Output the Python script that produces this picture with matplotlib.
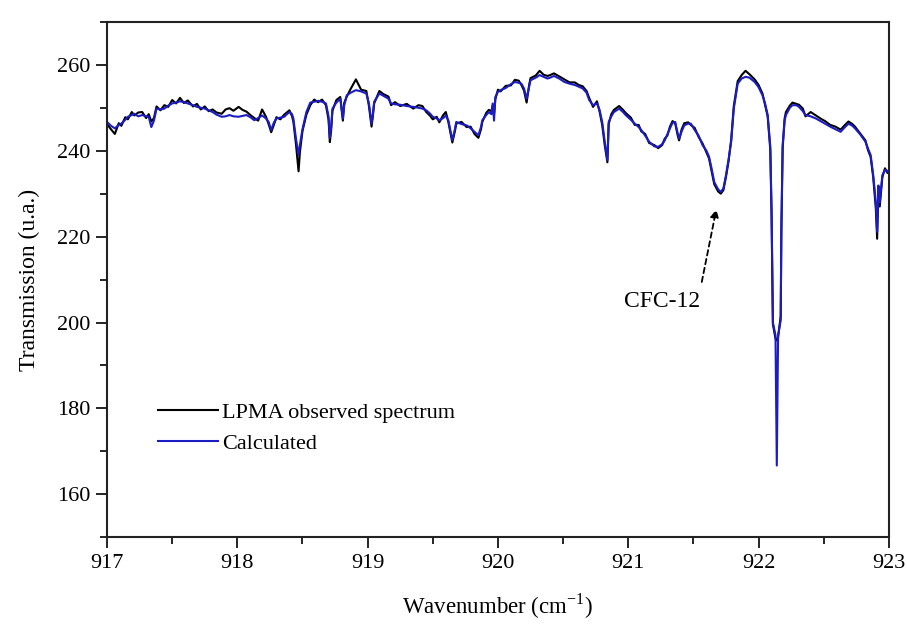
import matplotlib.pyplot as plt
from matplotlib.ticker import MultipleLocator

plt.rcParams['font.family'] = ['Liberation Serif', 'DejaVu Serif']
plt.rcParams['mathtext.fontset'] = 'custom'
plt.rcParams['mathtext.rm'] = 'Liberation Serif'

# wavenumber grid (cm-1), ten points per row
wavenumber = [
    917.00, 917.03, 917.06, 917.09, 917.11, 917.14, 917.16, 917.19, 917.21, 917.24,
    917.27, 917.30, 917.32, 917.34, 917.36, 917.38, 917.41, 917.44, 917.47, 917.50,
    917.53, 917.56, 917.59, 917.62, 917.66, 917.69, 917.72, 917.75, 917.78, 917.81,
    917.84, 917.88, 917.91, 917.94, 917.97, 918.01, 918.04, 918.07, 918.10, 918.13,
    918.16, 918.19, 918.22, 918.24, 918.26, 918.28, 918.30, 918.33, 918.36, 918.38,
    918.40, 918.42, 918.43, 918.45, 918.47, 918.48, 918.50, 918.53, 918.56, 918.59,
    918.62, 918.65, 918.68, 918.70, 918.71, 918.72, 918.73, 918.76, 918.79, 918.80,
    918.81, 918.82, 918.84, 918.87, 918.91, 918.95, 918.99, 919.01, 919.03, 919.04,
    919.05, 919.09, 919.12, 919.16, 919.18, 919.21, 919.25, 919.30, 919.35, 919.39,
    919.42, 919.45, 919.48, 919.50, 919.53, 919.55, 919.58, 919.60, 919.62, 919.65,
    919.67, 919.68, 919.72, 919.76, 919.79, 919.82, 919.85, 919.87, 919.88, 919.91,
    919.93, 919.95, 919.96, 919.97, 919.98, 920.00, 920.02, 920.06, 920.10, 920.13,
    920.16, 920.18, 920.20, 920.22, 920.24, 920.25, 920.29, 920.32, 920.35, 920.38,
    920.40, 920.43, 920.47, 920.51, 920.55, 920.59, 920.62, 920.65, 920.68, 920.70,
    920.73, 920.76, 920.78, 920.80, 920.82, 920.84, 920.85, 920.87, 920.89, 920.93,
    920.96, 920.98, 921.02, 921.05, 921.08, 921.10, 921.13, 921.16, 921.20, 921.23,
    921.26, 921.28, 921.30, 921.32, 921.34, 921.36, 921.38, 921.39, 921.41, 921.43,
    921.46, 921.48, 921.51, 921.54, 921.57, 921.60, 921.62, 921.64, 921.66, 921.69,
    921.71, 921.73, 921.75, 921.77, 921.79, 921.81, 921.84, 921.87, 921.90, 921.93,
    921.97, 922.00, 922.03, 922.05, 922.07, 922.09, 922.10, 922.11, 922.13, 922.14,
    922.15, 922.17, 922.175, 922.185, 922.20, 922.21, 922.24, 922.26, 922.29, 922.31,
    922.34, 922.36, 922.40, 922.44, 922.48, 922.51, 922.55, 922.59, 922.63, 922.66,
    922.69, 922.72, 922.74, 922.78, 922.82, 922.84, 922.86, 922.88, 922.90, 922.91,
    922.92, 922.93, 922.95, 922.97, 922.99, 923.00,
]

# LPMA balloon spectrum
observed = [
    246.2, 245.0, 243.9, 246.4, 245.8, 247.8, 247.3, 249.0, 248.2, 248.9,
    249.0, 247.6, 248.5, 246.8, 247.6, 250.3, 249.4, 250.6, 250.2, 251.8,
    251.0, 252.3, 251.1, 251.7, 250.3, 250.9, 249.6, 250.3, 249.2, 249.6,
    248.9, 248.6, 249.6, 249.9, 249.3, 250.2, 249.5, 249.1, 248.3, 247.6,
    247.0, 249.6, 247.9, 246.2, 244.3, 246.0, 247.8, 247.3, 248.4, 248.9,
    249.4, 248.0, 246.8, 241.5, 235.2, 239.6, 244.6, 248.4, 250.6, 251.9,
    251.3, 251.9, 250.6, 247.2, 242.0, 244.8, 249.3, 251.8, 252.5, 249.6,
    247.0, 251.1, 252.6, 254.4, 256.6, 254.2, 253.9, 250.4, 245.6, 248.0,
    251.0, 253.9, 253.2, 252.6, 250.6, 251.3, 250.4, 250.9, 249.8, 250.6,
    250.4, 249.0, 248.1, 247.3, 247.9, 246.6, 248.3, 249.0, 246.6, 241.9,
    244.6, 246.3, 246.7, 245.5, 245.6, 243.9, 243.0, 245.0, 246.7, 248.8,
    249.5, 249.2, 250.6, 248.5, 252.0, 254.2, 253.8, 255.1, 255.2, 256.5,
    256.3, 255.3, 254.0, 251.2, 255.4, 256.9, 257.5, 258.6, 257.7, 257.4,
    257.6, 258.0, 257.3, 256.6, 255.9, 255.9, 255.3, 255.0, 253.9, 252.3,
    250.2, 251.5, 249.1, 246.0, 241.2, 237.3, 246.2, 248.5, 249.5, 250.4,
    249.5, 248.8, 247.7, 246.0, 246.0, 244.5, 243.9, 241.8, 241.3, 240.6,
    241.3, 242.8, 243.5, 245.6, 246.9, 246.4, 243.5, 242.4, 245.0, 246.4,
    246.6, 246.0, 245.3, 243.2, 241.7, 239.6, 238.2, 235.2, 232.2, 230.5,
    230.0, 230.8, 233.9, 237.6, 242.6, 250.4, 256.2, 257.6, 258.6, 257.8,
    256.6, 255.3, 253.3, 250.6, 248.0, 240.2, 224.8, 199.6, 196.3, 195.8,
    196.6, 201.5, 221.0, 240.6, 247.5, 249.0, 250.5, 251.2, 250.9, 250.7,
    249.8, 248.0, 249.0, 248.2, 247.4, 246.9, 246.0, 245.6, 244.9, 245.9,
    246.8, 246.2, 245.6, 244.0, 242.4, 240.1, 238.6, 233.8, 226.5, 219.5,
    231.0, 227.0, 233.8, 235.9, 234.8, 235.6,
]

# forward-model fit
calculated = [
    246.7, 245.8, 245.2, 246.0, 246.3, 247.2, 247.9, 248.3, 248.6, 248.0,
    248.3, 248.0, 247.9, 245.5, 247.0, 249.8, 249.6, 249.8, 250.5, 251.0,
    251.2, 251.5, 251.3, 251.0, 250.6, 250.2, 250.0, 249.8, 249.4, 249.0,
    248.4, 247.9, 248.0, 248.3, 248.0, 247.9, 248.1, 248.3, 247.8, 247.1,
    247.6, 248.2, 247.5, 246.7, 244.8, 246.5, 247.5, 247.7, 247.9, 248.5,
    249.0, 248.5, 247.5, 242.8, 239.0, 241.3, 245.0, 249.0, 251.2, 251.4,
    251.6, 251.4, 251.0, 248.0, 243.0, 245.5, 249.8, 251.2, 252.1, 250.0,
    247.5, 250.5, 252.9, 253.5, 254.1, 253.8, 253.3, 251.0, 246.3, 248.5,
    251.4, 253.3, 252.8, 252.1, 251.0, 250.8, 250.7, 250.4, 250.2, 250.0,
    249.8, 249.4, 248.6, 247.9, 247.5, 247.1, 247.6, 248.2, 247.0, 242.4,
    245.0, 246.7, 246.2, 245.9, 245.2, 244.4, 243.6, 245.5, 247.1, 248.3,
    249.0, 248.5, 251.0, 247.0, 252.5, 253.7, 254.1, 254.6, 255.5, 256.0,
    255.8, 255.6, 254.5, 252.1, 255.0, 256.4, 257.0, 257.6, 257.2, 256.8,
    257.0, 257.4, 256.8, 256.0, 255.6, 255.3, 254.9, 254.5, 253.5, 251.8,
    250.6, 251.0, 249.5, 246.7, 242.0, 237.8, 246.7, 248.0, 249.0, 249.8,
    249.0, 248.3, 247.2, 246.3, 245.5, 244.8, 243.5, 242.1, 241.0, 240.9,
    241.5, 242.4, 243.8, 245.2, 246.5, 246.7, 244.0, 242.8, 244.5, 245.9,
    246.3, 246.3, 244.8, 243.5, 241.3, 240.0, 238.6, 235.8, 232.7, 231.0,
    230.4, 231.2, 234.3, 238.0, 242.1, 249.8, 255.6, 256.8, 257.2, 257.0,
    256.0, 254.8, 252.9, 251.0, 248.3, 241.0, 225.7, 200.0, 197.0, 166.7,
    197.0, 200.5, 222.0, 241.3, 247.0, 248.3, 250.0, 250.6, 250.6, 250.2,
    249.2, 248.3, 248.0, 247.5, 246.8, 246.3, 245.6, 245.0, 244.4, 245.4,
    246.3, 245.8, 245.2, 243.8, 242.1, 240.5, 239.0, 234.3, 228.0, 221.1,
    231.9, 228.0, 234.3, 235.5, 235.1, 235.3,
]

fig = plt.figure(figsize=(9.07, 6.24), dpi=100)
ax = fig.add_axes([0.118, 0.139, 0.862, 0.826])

ax.plot(wavenumber, observed, color='black', lw=1.5, label='LPMA observed spectrum')
ax.plot(wavenumber, calculated, color='#1c1cc4', lw=1.5, label='Calculated')

ax.set_xlim(917, 923)
ax.set_ylim(150, 270)
ax.xaxis.set_major_locator(MultipleLocator(1))
ax.xaxis.set_minor_locator(MultipleLocator(0.5))
ax.yaxis.set_major_locator(MultipleLocator(20))
ax.yaxis.set_minor_locator(MultipleLocator(10))
ax.tick_params(which='both', direction='out', top=False, right=False, labelsize=16, width=1.2)
ax.tick_params(which='major', length=8, pad=4)
ax.tick_params(which='minor', length=5)
for sp in ax.spines.values():
    sp.set_linewidth(1.5)
    sp.set_color('#222222')

ax.set_xlabel('Wavenumber (cm$^{\\mathrm{-1}}$)', fontsize=16.5, labelpad=13)
ax.set_ylabel('Transmission (u.a.)', fontsize=17, labelpad=12)

ax.annotate('', xy=(921.68, 227.0), xytext=(921.56, 208.8),
            arrowprops=dict(arrowstyle='-|>', color='black', lw=1.3,
                            linestyle=(0, (3, 2)), mutation_scale=12))
ax.text(921.26, 204.8, 'CFC-12', fontsize=17, ha='center', va='center')

ax.legend(loc='upper left', bbox_to_anchor=(0.039, 0.30), frameon=False,
          fontsize=16, handlelength=2.7, handletextpad=0.2, labelspacing=0.45)

fig.savefig('out.png', dpi=100)
